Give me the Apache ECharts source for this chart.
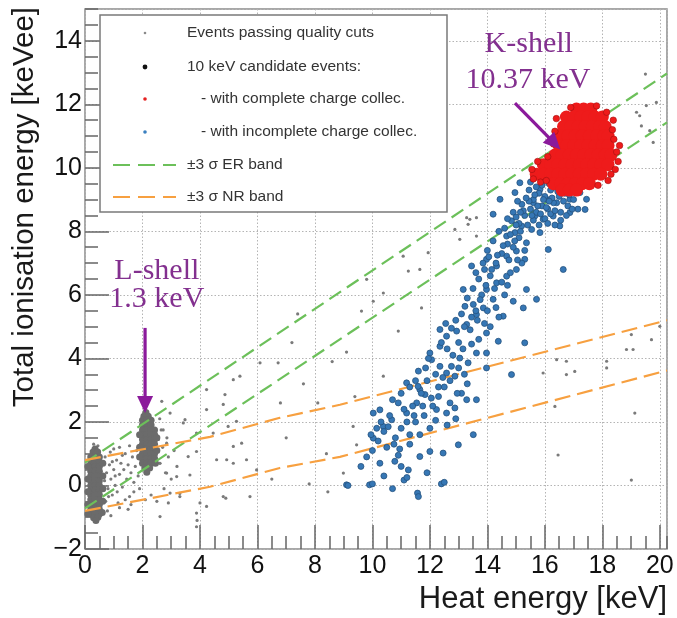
<!DOCTYPE html>
<html><head><meta charset="utf-8">
<script src="https://cdn.jsdelivr.net/npm/echarts@6/dist/echarts.min.js"></script>
<style>html,body{margin:0;padding:0;background:#fff}#c{width:677px;height:618px}</style>
</head><body><div id="c"></div>
<script>
// ---------- axis ranges / ticks ----------
const xRange = [0, 20.25];
const yRange = [-2, 15];
const xMajorStep = 2, xMinorStep = 0.5;
const yMajorStep = 2, yMinorStep = 0.5;

// ---------- band lines ----------
const erBandUpper = [[0, 0.72], [20.25, 12.97]];
const erBandLower = [[0, -0.72], [20.25, 11.43]];
const nrBandUpper = [[0, 0.8], [4.35, 1.53], [6.78, 2.13], [8.87, 2.54], [20.25, 5.2]];
const nrBandLower = [[0, -0.8], [4.35, -0.04], [6.78, 0.55], [8.87, 0.9], [20.25, 3.62]];

// ---------- grey: events passing quality cuts ----------
const greyNoiseBlob = [
 [0.35,1.15],[0.28,1.05],[0.44,1.05],
 [0.2,0.9],[0.35,0.9],[0.5,0.9],[0.2,0.75],[0.35,0.75],[0.5,0.75],
 [0.2,0.6],[0.35,0.6],[0.5,0.6],[0.2,0.45],[0.35,0.45],[0.5,0.45],
 [0.2,0.3],[0.35,0.3],[0.5,0.3],[0.2,0.15],[0.35,0.15],[0.5,0.15],
 [0.2,0],[0.35,0],[0.5,0],[0.2,-0.15],[0.35,-0.15],[0.5,-0.15],
 [0.2,-0.3],[0.35,-0.3],[0.5,-0.3],[0.2,-0.45],[0.35,-0.45],[0.5,-0.45],
 [0.2,-0.6],[0.35,-0.6],[0.5,-0.6],[0.2,-0.75],[0.35,-0.75],[0.5,-0.75],
 [0.2,-0.9],[0.35,-0.9],[0.5,-0.9],[0.3,-1.02],[0.45,-1.0],[0.38,-1.1],
 [0.1,0.6],[0.1,0.2],[0.1,-0.2],[0.1,-0.6],[0.1,-0.9],
 [0.62,0.7],[0.62,0.3],[0.62,-0.1],[0.62,-0.5],[0.6,-0.85]
];
const greyLShellBlob = [
 [2.12,2.3],[2.05,2.18],[2.2,2.18],
 [2.0,2.05],[2.15,2.05],[2.3,2.05],[2.0,1.9],[2.15,1.9],[2.3,1.9],
 [2.0,1.75],[2.15,1.75],[2.3,1.75],[2.42,1.75],[2.0,1.6],[2.15,1.6],[2.3,1.6],[2.42,1.6],
 [2.0,1.45],[2.15,1.45],[2.3,1.45],[2.42,1.45],[2.0,1.3],[2.15,1.3],[2.3,1.3],[2.42,1.3],
 [2.0,1.15],[2.15,1.15],[2.3,1.15],[2.42,1.15],[2.0,1.0],[2.15,1.0],[2.3,1.0],[2.42,1.0],
 [2.0,0.85],[2.15,0.85],[2.3,0.85],[2.42,0.85],[2.0,0.7],[2.15,0.7],[2.3,0.7],
 [2.08,0.55],[2.25,0.55],[2.15,0.42],
 [1.9,1.6],[1.9,1.2],[1.9,0.9],[2.5,1.5],[2.5,1.1],[2.45,0.7]
];
const greyScatter = [
 [0.7,0.9],[0.75,0.4],[0.8,-0.1],[0.72,-0.5],[0.85,0.65],[0.9,0.2],[0.95,-0.3],[0.88,1.05],
 [1.0,0.5],[1.05,0.0],[1.1,0.8],[1.12,-0.2],[1.2,0.35],[1.25,0.7],[1.3,-0.05],[1.35,0.5],
 [1.4,1.0],[1.45,0.2],[1.5,0.65],[1.55,-0.35],[1.6,0.4],[1.65,0.9],[1.7,0.1],[1.75,0.6],
 [1.8,1.1],[1.85,0.3],[1.0,1.15],[1.15,-0.55],[0.78,-0.8],[1.6,-0.6],[1.3,0.95],[0.95,0.75],
 [1.55,1.25],[1.7,-0.2],[0.68,0.15],[0.82,-0.35],[1.4,-0.45],[1.2,1.2],[1.9,-0.1],[1.05,0.3],
 [2.6,0.7],[2.7,1.2],[2.8,0.4],[2.65,1.75],[2.85,1.5],[2.9,0.9],[3.0,0.2],[2.75,-0.1],
 [2.6,2.1],[2.55,1.45],[3.1,1.1],[3.2,0.6],[0.3,1.3],[0.45,1.25],
 [1.2,-0.7],[1.5,-0.75],[2.1,-0.45],[2.5,-0.5],[2.9,-0.55],[0.9,-0.95],[2.3,-0.3],[3.3,-0.25],
 [3.88,-1.3],[3.9,-1.1],[4.0,-0.55],[4.9,-0.4],[7.8,0.05],[8.45,-0.2],
 [2.67,2.65],[4.23,3.02],[4.87,2.86],[5.16,3.33],[5.39,3.44],[6.09,3.86],[6.72,3.86],[4.23,2.39],
 [4.81,2.55],[3.48,2.07],[3.42,1.97],[3.88,1.65],[4.46,1.65],[5.27,2.02],[4.98,1.86],[5.45,1.33],
 [5.16,1.23],[4.93,0.81],[4.58,0.81],[5.16,0.7],[5.62,0.81],[5.97,0.49],[2.61,0.7],[2.84,0.39],
 [3.19,0.28],[3.65,0.33],[2.96,-0.24],[3.3,-0.35],[3.88,-0.87],[4.23,-0.66],[4.81,-0.35],[5.74,-0.35],
 [2.61,-0.98],[2.72,1.75],[2.84,1.33],[3.59,0.91],[3.88,1.07],[2.96,2.28],
 [13.28,8.43],[13.62,8.43],[13.33,8.22],[12.87,8.06],[13.04,7.75],[13.62,7.85],[11.94,7.33],[11.07,7.22],
 [11.65,6.8],[11.25,6.75],[9.8,6.49],[10.38,6.06],[10.03,5.8],[9.62,5.49],[11.71,5.59],[10.9,4.86],
 [10.38,3.44],[16.41,3.96],[16.75,3.91],[15.94,3.54],[16.75,3.49],[17.04,3.59],[18.15,3.91],[18.15,3.7],
 [18.84,4.28],[19.07,4.28],[19.01,4.75],[19.71,4.59],[20.0,5.01],[16.35,2.49],[16.46,0.96],[19.13,2.28],
 [19.01,0.17],[9.39,2.8],[9.33,1.86],[9.45,1.28],[8.99,0.39],
 [19.19,11.75],[19.3,11.64],[19.53,11.96],[19.88,12.06],[19.36,11.32],[19.65,11.17],[19.77,10.8],[19.5,12.95],
 [13.39,8.38],[7.2,4.5],[7.6,3.2],[8.1,2.6],[7.0,1.5],[8.4,1.0],[6.5,0.2],[6.8,2.6],[8.6,3.9],[7.4,5.4],[9.1,4.2]
];

// ---------- 10 keV candidates ----------
const blueIncomplete = [
 [9.1,0.02],[9.9,0.02],[11.57,-0.24],[12.4,0.05],[11.1,0.17],[10.26,0.7],[9.8,0.9],[10.78,0.76],
 [11.25,0.49],[11.65,0.91],[12.0,1.07],[12.46,1.02],[12.99,1.28],[13.51,1.6],[10.03,1.49],[10.38,1.86],
 [10.67,2.07],[11.19,2.28],[11.54,2.6],[11.83,2.86],[12.23,2.39],[12.58,2.28],[12.87,2.44],[13.28,2.7],
 [13.62,2.7],[11.19,3.23],[11.65,3.02],[12.06,3.96],[12.35,3.75],[12.58,3.54],[12.87,3.44],[13.04,4.01],
 [13.33,3.86],[13.62,4.17],[13.97,4.17],[13.97,3.7],[14.84,3.49],[15.3,4.49],[14.38,4.54],[12.35,4.38],
 [12.58,4.7],[12.93,4.86],[13.28,5.07],[13.62,5.38],[13.97,4.8],[13.22,5.64],[13.51,5.7],[13.86,5.59],
 [14.2,5.86],[14.55,5.33],[14.9,5.8],[15.25,5.59],[15.71,5.86],[13.97,6.17],[14.32,6.38],[14.67,6.59],
 [15.01,6.8],[15.36,6.17],[13.97,7.12],[14.32,6.91],[14.67,7.22],[15.01,7.38],[15.3,7.12],[13.45,6.91],
 [16.64,6.8],[14.67,7.85],[14.96,7.96],[15.19,8.17],[15.54,8.06],[15.36,7.64],[15.83,7.96],[16.12,7.43],
 [14.84,8.33],[15.65,8.48],[15.94,8.38],[16.29,8.48],[15.6,8.9],[16.06,9.01],[16.41,8.9],[16.87,9.01],
 [16.52,8.17],[16.87,8.59],[17.4,8.69],[17.45,9.01],[15.83,9.32],[16.29,9.38],[16.75,9.22],[17.22,9.22],
 [14.96,9.22],[15.13,9.53],[14.44,9.01],[14.2,8.54],[13.16,6.17],[12.35,4.91],[12.0,4.17],[11.59,3.12],
 [10.26,2.38],[10.03,2.28],
 [15.3,8.5],[15.5,8.7],[15.7,8.6],[15.9,8.8],[16.1,8.7],[16.3,8.9],[16.5,9.1],[16.7,9.2],
 [16.9,9.3],[15.6,9.0],[15.8,9.2],[16.0,9.1],[16.2,9.3],[16.4,9.45],[16.6,9.5],[16.0,8.4],
 [16.2,8.55],[15.4,8.2],[15.6,8.35],[16.8,8.8],[17.0,9.0],[17.15,8.7],[15.2,8.85],[15.45,9.3],
 [16.35,8.2],[16.55,8.6],[15.1,8.25],[16.9,9.5],[16.15,9.5],[15.9,9.45],
 [15.25,8.65],[15.45,8.95],[15.65,9.15],[15.85,8.55],[16.05,8.75],[16.25,9.05],[16.45,9.25],[16.65,8.95],
 [16.85,9.15],[17.05,9.3],[15.35,9.05],[15.55,8.5],[15.75,8.8],[15.95,9.0],[16.15,8.95],[16.35,8.65],
 [16.55,8.35],[16.75,8.5],[15.15,8.6],[15.05,8.95],[14.9,8.6],[14.7,8.4],[15.0,8.45],[16.1,8.25],
 [15.8,8.2],[16.95,8.7],[17.1,9.45],[16.3,9.6],[15.7,9.4],[15.5,9.55],
 [13.5,6.2],[13.7,6.5],[13.9,6.8],[14.1,6.6],[14.3,7.0],[14.5,7.3],[14.7,7.6],[14.9,7.5],
 [15.1,7.8],[14.0,7.4],[14.2,7.7],[14.4,8.0],[14.6,8.1],[14.8,7.9],[15.0,8.2],[13.3,5.9],
 [13.6,5.5],[13.8,6.0],[14.0,5.5],[14.25,6.2],[14.6,6.0],[14.8,6.7],[15.2,7.0],[13.1,5.4],
 [12.9,5.2],[13.4,4.9],[13.7,4.6],[14.1,5.0],[14.4,5.3],
 [13.2,5.0],[13.45,5.3],[13.75,5.85],[13.95,6.3],[14.15,6.8],[14.35,7.25],[14.55,7.55],[14.75,7.1],
 [14.95,7.7],[15.15,8.0],[13.6,6.7],[13.85,7.0],[14.05,7.2],[13.65,5.2],[13.9,5.1],[14.3,5.6],
 [14.5,6.4],[14.7,6.3],[15.05,7.1],[15.3,7.4],[13.0,4.5],[12.75,4.95],[12.55,5.1],[13.15,4.3],[13.45,4.45],
 [10.5,1.2],[10.8,1.5],[11.0,1.8],[11.3,1.6],[11.5,2.0],[11.8,2.2],[12.1,2.5],[12.3,2.8],
 [12.5,3.1],[12.7,3.3],[12.2,3.5],[11.9,3.3],[11.7,2.9],[11.4,2.5],[11.1,2.4],[10.9,2.6],
 [10.6,2.2],[10.4,1.7],[10.2,1.4],[10.0,1.1],[12.0,1.8],[12.6,1.9],[12.9,2.1],[13.1,2.9],
 [13.0,3.7],[12.8,4.1],[12.6,4.3],[12.4,4.5],[11.6,3.6],[11.3,3.1],[13.3,3.2],
 [11.2,2.0],[11.45,2.2],[11.75,2.5],[12.05,2.75],[12.3,3.1],[12.45,3.4],[11.85,3.7],[11.5,3.3],
 [11.0,2.9],[10.7,2.7],[10.55,1.85],[10.75,1.3],[10.95,1.15],[11.3,1.3],[11.65,1.6],[12.2,2.05],
 [12.7,2.6],[12.95,2.9],[13.2,3.5],[12.75,3.75],[11.95,4.0],[10.3,2.0],[10.15,1.8],[9.95,1.6],[11.0,0.6],
 [9.15,0.0],[10.0,0.05],[11.2,0.25],[11.6,-0.35],[12.5,0.1],[9.6,0.6],[10.4,0.3],[10.9,0.95],
 [11.9,0.4],[10.7,-0.1]
];
const redComplete = [
 [17.1,11.85],[17.35,11.85],[17.6,11.85],
 [16.75,11.6],[17.0,11.6],[17.25,11.6],[17.5,11.6],[17.75,11.6],[18.0,11.6],
 [16.65,11.3],[16.9,11.3],[17.15,11.3],[17.4,11.3],[17.65,11.3],[17.9,11.3],[18.1,11.3],
 [16.55,11.0],[16.8,11.0],[17.05,11.0],[17.3,11.0],[17.55,11.0],[17.8,11.0],[18.05,11.0],[18.2,11.0],
 [16.5,10.7],[16.75,10.7],[17.0,10.7],[17.25,10.7],[17.5,10.7],[17.75,10.7],[18.0,10.7],[18.2,10.7],
 [16.35,10.4],[16.6,10.4],[16.85,10.4],[17.1,10.4],[17.35,10.4],[17.6,10.4],[17.85,10.4],[18.1,10.4],[18.3,10.4],
 [15.95,10.1],[16.2,10.1],[16.45,10.1],[16.7,10.1],[16.95,10.1],[17.2,10.1],[17.45,10.1],[17.7,10.1],[17.95,10.1],[18.2,10.1],
 [15.7,9.8],[15.95,9.8],[16.2,9.8],[16.45,9.8],[16.7,9.8],[16.95,9.8],[17.2,9.8],[17.45,9.8],[17.7,9.8],[17.95,9.8],
 [16.3,9.5],[16.55,9.5],[16.8,9.5],[17.05,9.5],[17.3,9.5],[17.55,9.5],
 [16.6,9.3],[16.85,9.3],[17.1,9.3]
];
const redEdge = [
 [18.4,10.9],[18.5,10.5],[18.35,11.2],[18.45,9.95],[18.2,9.6],[15.55,9.95],[15.75,10.2],[16.1,10.35],
 [18.6,10.7],[16.4,11.55],[17.8,11.95],[18.3,9.8],[15.6,9.65],[18.38,11.5],[16.9,11.9],[18.15,11.75],
 [16.3,10.75],[16.35,11.15],[17.85,9.45],[18.55,10.2],[15.85,9.55],[16.05,9.6]
];

// ---------- chart ----------
const chart = echarts.init(document.getElementById('c'), null, {renderer: 'canvas'});
const FONT = '"Liberation Sans", Arial, Helvetica, sans-serif';
const dash = (c, d) => ({color: c, width: 2.2, type: d});
const fmtMinus = v => String(v).replace('-', '\u2212');
const tickStyle = {color: '#666', width: 1.5};

chart.setOption({
  animation: false,
  backgroundColor: '#fff',
  grid: {left: 85, top: 9, right: 10, bottom: 69, show: true, borderColor: '#8c8c8c', borderWidth: 1.5, outerBoundsMode: 'none'},
  xAxis: [
    {type: 'value', min: xRange[0], max: xRange[1], interval: xMajorStep, position: 'bottom',
     axisLine: {show: false, onZero: false},
     axisTick: {show: true, inside: true, length: 24, lineStyle: tickStyle},
     axisLabel: {show: true, fontSize: 25, color: '#111', fontFamily: FONT, margin: 5, showMaxLabel: false},
     splitLine: {show: true, lineStyle: {color: '#b4b4b4', width: 1, type: [1.5, 2]}}},
    {type: 'value', min: xRange[0], max: xRange[1], interval: xMinorStep, position: 'bottom',
     axisLine: {show: false, onZero: false}, axisLabel: {show: false}, splitLine: {show: false},
     axisTick: {show: true, inside: true, length: 13, lineStyle: tickStyle}}
  ],
  yAxis: [
    {type: 'value', min: yRange[0], max: yRange[1], interval: yMajorStep, position: 'left',
     axisLine: {show: false, onZero: false},
     axisTick: {show: true, inside: true, length: 24, lineStyle: tickStyle},
     axisLabel: {show: true, fontSize: 25, color: '#111', fontFamily: FONT, margin: 3, showMaxLabel: false, formatter: fmtMinus},
     splitLine: {show: true, lineStyle: {color: '#b4b4b4', width: 1, type: [1.5, 2]}}},
    {type: 'value', min: yRange[0], max: yRange[1], interval: yMinorStep, position: 'left',
     axisLine: {show: false, onZero: false}, axisLabel: {show: false}, splitLine: {show: false},
     axisTick: {show: true, inside: true, length: 13, lineStyle: tickStyle}}
  ],
  series: [
    {name: 'ER band +3σ', type: 'line', data: erBandUpper, showSymbol: false, lineStyle: dash('#6cc05a', [14, 7]), z: 3},
    {name: 'ER band −3σ', type: 'line', data: erBandLower, showSymbol: false, lineStyle: dash('#6cc05a', [14, 7]), z: 3},
    {name: 'NR band +3σ', type: 'line', data: nrBandUpper, showSymbol: false, lineStyle: dash('#f7a040', [16, 7]), z: 3},
    {name: 'NR band −3σ', type: 'line', data: nrBandLower, showSymbol: false, lineStyle: dash('#f7a040', [16, 7]), z: 3},
    {name: 'Events passing quality cuts', type: 'scatter', data: greyScatter, symbolSize: 3.2, itemStyle: {color: '#7a7a7a', opacity: 1}, z: 2},
    {name: 'Events passing quality cuts (0 keV)', type: 'scatter', data: greyNoiseBlob, symbolSize: 7, itemStyle: {color: '#6b6b6b', opacity: 1}, z: 2},
    {name: 'Events passing quality cuts (L-shell)', type: 'scatter', data: greyLShellBlob, symbolSize: 7, itemStyle: {color: '#6b6b6b', opacity: 1}, z: 2},
    {name: 'with incomplete charge collec.', type: 'scatter', data: blueIncomplete, symbolSize: 6,
     itemStyle: {color: '#3677b5', borderColor: '#25527d', borderWidth: 0.8, opacity: 1}, z: 4},
    {name: 'with complete charge collec.', type: 'scatter', data: redComplete, symbolSize: 13,
     itemStyle: {color: '#ee1b1b', opacity: 1}, z: 5},
    {name: 'with complete charge collec. (edge)', type: 'scatter', data: redEdge, symbolSize: 6.5,
     itemStyle: {color: '#ee1b1b', borderColor: '#a01010', borderWidth: 0.6, opacity: 1}, z: 5}
  ]
});

// ---------- legend, titles, annotations ----------
const P = (x, y) => chart.convertToPixel({gridIndex: 0}, [x, y]);
const PURPLE_T = '#83308f', PURPLE_A = '#8b1a9b';
function arrow(a, b, len, half) {
  const dx = b[0] - a[0], dy = b[1] - a[1], L = Math.hypot(dx, dy);
  const ux = dx / L, uy = dy / L;
  const base = [b[0] - ux * len, b[1] - uy * len];
  return [
    {type: 'line', shape: {x1: a[0], y1: a[1], x2: base[0] + ux * 2, y2: base[1] + uy * 2}, style: {stroke: PURPLE_A, lineWidth: 3.2}, z: 20},
    {type: 'polygon', shape: {points: [b, [base[0] - uy * half, base[1] + ux * half], [base[0] + uy * half, base[1] - ux * half]]},
     style: {fill: PURPLE_A}, z: 20}
  ];
}
const legendFont = '15.5px ' + FONT;
const g = [];
g.push({type: 'rect', shape: {x: 100, y: 15, width: 347, height: 197}, style: {fill: '#fff', stroke: '#7a7a7a', lineWidth: 1.5}, z: 10});
const legRows = [
  {y: 33, kind: 'dot', color: '#8a8a8a', r: 1.3, text: 'Events passing quality cuts', tx: 187},
  {y: 67, kind: 'dot', color: '#111', r: 2.4, text: '10 keV candidate events:', tx: 187},
  {y: 99, kind: 'dot', color: '#e52020', r: 1.8, text: '- with complete charge collec.', tx: 201},
  {y: 132, kind: 'dot', color: '#3a80c0', r: 1.8, text: '- with incomplete charge collec.', tx: 201},
  {y: 165, kind: 'line', color: '#6cc05a', text: '\u00b13 \u03c3 ER band', tx: 187},
  {y: 197, kind: 'line', color: '#f7a040', text: '\u00b13 \u03c3 NR band', tx: 187}
];
legRows.forEach(r => {
  if (r.kind === 'dot') g.push({type: 'circle', shape: {cx: 145, cy: r.y, r: r.r}, style: {fill: r.color}, z: 11});
  else g.push({type: 'line', shape: {x1: 113, y1: r.y, x2: 176, y2: r.y}, style: {stroke: r.color, lineWidth: 2.2, lineDash: [17, 8]}, z: 11});
  g.push({type: 'text', x: r.tx, y: r.y, style: {text: r.text, font: legendFont, fill: '#333', verticalAlign: 'middle', align: 'left'}, z: 11});
});
// axis titles
g.push({type: 'text', x: 25, y: 7, rotation: Math.PI / 2,
  style: {text: 'Total ionisation energy [keVee]', font: '29.5px ' + FONT, fill: '#1a1a1a', align: 'right', verticalAlign: 'middle'}, z: 12});
g.push({type: 'text', x: 667, y: 599,
  style: {text: 'Heat energy [keV]', font: '31px ' + FONT, fill: '#1a1a1a', align: 'right', verticalAlign: 'middle'}, z: 12});
// annotations
const serif = '30px "Liberation Serif", "Times New Roman", serif';
const annotate = (txt, x, y) => {
  const p = P(x, y);
  g.push({type: 'text', x: p[0], y: p[1], style: {text: txt, font: serif, fill: PURPLE_T, align: 'center', verticalAlign: 'middle'}, z: 20});
};
annotate('K-shell', 15.44, 13.9);
annotate('10.37 keV', 15.41, 12.77);
annotate('L-shell', 2.5, 6.75);
annotate('1.3 keV', 2.5, 5.87);
arrow(P(14.96, 12.04), P(16.54, 10.58), 17, 8).forEach(e => g.push(e));
arrow(P(2.09, 4.96), P(2.09, 2.28), 17, 8).forEach(e => g.push(e));
chart.setOption({graphic: {elements: g}});
</script></body></html>
